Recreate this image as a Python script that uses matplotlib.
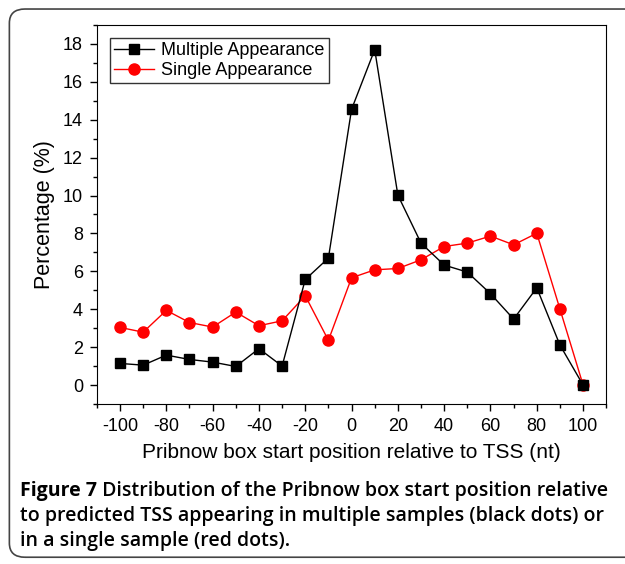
import matplotlib.pyplot as plt
import numpy as np
from matplotlib.patches import FancyBboxPatch

positions = [-100, -90, -80, -70, -60, -50, -40, -30, -20, -10, 0,
             10, 20, 30, 40, 50, 60, 70, 80, 90, 100]
multiple = [1.14, 1.05, 1.58, 1.35, 1.21, 0.98, 1.92, 1.0, 5.57, 6.70, 14.55,
            17.70, 10.02, 7.49, 6.33, 5.96, 4.82, 3.48, 5.13, 2.11, 0.0]
single = [3.04, 2.79, 3.94, 3.30, 3.06, 3.85, 3.13, 3.39, 4.71, 2.36, 5.66,
          6.08, 6.15, 6.61, 7.31, 7.49, 7.86, 7.40, 8.01, 4.01, 0.0]

caption_lines = ['to predicted TSS appearing in multiple samples (black dots) or',
                 'in a single sample (red dots).']

plt.rcParams['font.family'] = ['Liberation Sans', 'DejaVu Sans']
plt.rcParams['axes.unicode_minus'] = False

fig = plt.figure(figsize=(6.25, 5.64), dpi=100)

# rounded frame around the figure
frame = FancyBboxPatch((0.015, 0.012), 1.2, 0.972, boxstyle='round,pad=0,rounding_size=0.025',
                       transform=fig.transFigure, fill=False, edgecolor='#444444', linewidth=1.2)
fig.patches.append(frame)

ax = fig.add_axes([0.155, 0.2837, 0.815, 0.672])
ax.plot(positions, multiple, color='black', linewidth=1, marker='s', markersize=7,
        label='Multiple Appearance', zorder=3)
ax.plot(positions, single, color='red', linewidth=1, marker='o', markersize=8,
        label='Single Appearance', zorder=2)

ax.set_xlim(-110, 110)
ax.set_ylim(-1, 19)
ax.set_xticks(np.arange(-100, 101, 20))
ax.set_xticks(np.arange(-110, 111, 10), minor=True)
ax.set_yticks(np.arange(0, 19, 2))
ax.set_yticks(np.arange(-1, 19.5, 1), minor=True)
ax.tick_params(axis='both', which='major', direction='out', length=5, width=1,
               labelsize=13, pad=5)
ax.tick_params(axis='both', which='minor', direction='out', length=3, width=1)
ax.tick_params(top=False, right=False)

ax.set_xlabel('Pribnow box start position relative to TSS (nt)', fontsize=15, labelpad=6)
ax.set_ylabel('Percentage (%)', fontsize=15.5, labelpad=6)

leg = ax.legend(loc='upper left', fontsize=13, frameon=True, fancybox=False,
                edgecolor='black', handlelength=2.2, handletextpad=0.4,
                borderpad=0.25, labelspacing=0.15, borderaxespad=0.7)
leg.get_frame().set_linewidth(1)

head = fig.text(0.032, 0.129, 'Figure 7', fontsize=14, fontweight='bold',
                family='Open Sans', va='center')
ax.annotate(' Distribution of the Pribnow box start position relative', xy=(1, 0.5),
            xycoords=head, va='center', ha='left', fontsize=14, fontweight='semibold',
            family='Open Sans', annotation_clip=False)
fig.text(0.032, 0.085, caption_lines[0], fontsize=14, fontweight='semibold',
         family='Open Sans', va='center')
fig.text(0.032, 0.041, caption_lines[1], fontsize=14, fontweight='semibold',
         family='Open Sans', va='center')

fig.savefig('out.png', dpi=100)
